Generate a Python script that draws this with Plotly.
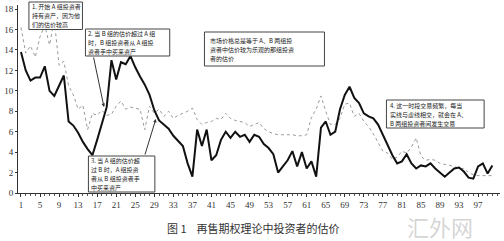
import plotly.graph_objects as go

periods = list(range(1, 101))
group_a = [13.8, 12.0, 11.0, 11.3, 11.3, 12.4, 10.0, 9.5, 10.5, 11.5,
           7.0, 6.6, 5.9, 5.0, 4.3, 3.7, 5.2, 6.7, 8.4, 13.0,
           11.1, 12.8, 12.6, 13.4, 12.3, 11.4, 10.6, 9.6, 8.1, 7.1,
           6.7, 6.3, 5.6, 5.1, 4.6, 2.9, 1.6, 6.2, 4.6, 6.2,
           3.2, 3.7, 5.2, 6.0, 5.4, 6.0, 5.5, 5.7, 5.0, 5.7,
           5.5, 4.8, 4.4, 3.8, 2.0, 2.6, 3.2, 4.1, 2.6, 4.0,
           2.4, 3.1, 1.6, 6.4, 7.0, 5.7, 6.0, 8.2, 9.6, 10.4,
           9.3, 8.8, 7.8, 7.5, 7.3, 6.7, 5.7, 4.8, 3.7, 2.9,
           3.1, 3.8, 2.9, 2.4, 2.7, 2.6, 2.9, 2.4, 2.0, 1.6,
           2.0, 2.4, 2.5, 2.1, 1.5, 1.4, 2.6, 2.9, 1.9, 2.7]
group_b = [16.2, 13.7, 14.4, 13.3, 15.3, 16.4, 14.5, 16.9, 12.5, 12.9,
           10.5, 9.6, 8.2, 8.6, 6.2, 7.8, 7.6, 8.1, 7.6, 7.7,
           8.5, 9.0, 8.2, 8.4, 8.3, 8.2, 6.2, 8.5, 7.8, 8.2,
           7.5, 8.0, 7.3, 7.6, 7.8, 8.0, 8.3, 7.2, 6.7, 6.9,
           7.0, 7.3, 7.2, 7.8, 7.3, 7.1, 7.0, 6.9, 6.5, 6.7,
           6.9, 6.3, 6.0, 5.8, 5.7, 5.7, 5.7, 5.7, 5.6, 5.6,
           5.7, 7.4, 8.2, 9.5, 8.0, 6.7, 6.7, 7.3, 8.7, 8.8,
           7.5, 7.8, 7.0, 6.5, 5.8, 5.0, 4.1, 3.9, 3.3, 3.5,
           4.1, 3.9, 4.5, 5.4, 3.6, 3.2, 3.3, 3.2, 2.9, 2.8,
           2.7, 2.6, 2.4, 2.4, 2.0, 1.8, 1.7, 1.7, 1.7, 1.7]
x_ticks = list(range(1, 101, 4))
y_ticks = [0, 2, 4, 6, 8, 10, 12, 14, 16, 18]

note_1 = ["1. 开始 A 组投资者", "持有资产，因为他", "们的估价较高"]
note_2 = ["2. 当 B 组的估价超过 A 组", "时，B 组投资者从 A 组投", "资者手中买来资产"]
note_3 = ["3. 当 A 组的估价超", "过 B 时，A 组投资", "者从 B 组投资者手", "中买来资产"]
note_m = ["市场价格总是等于 A、B 两组投", "资者中估价较为乐观的那组投资", "者的估价"]
note_4 = ["4. 这一时段交易频繁，每当", "实线与虚线相交，就会在 A、", "B 两组投资者间发生交易"]

L, T, W, H = 14, 5, 486, 188
def pp(xp, yp):
    return (xp - L) / W, (T + H - yp) / H

CJK = "Noto Sans CJK SC"
SERIF = "Liberation Serif"
FS, LS = 6, 9

fig = go.Figure()
fig.add_trace(go.Scatter(x=periods, y=group_b, mode="lines",
                         line=dict(color="#9a9a9a", width=1, dash="dot"),
                         showlegend=False))
fig.add_trace(go.Scatter(x=periods, y=group_a, mode="lines",
                         line=dict(color="#111111", width=2),
                         showlegend=False))

# (box x0, y0, x1, y1 in px), text left px, first line centre px, lines
boxes = [
    ((25, 2, 79, 29.5), 27, 6.5, note_1),
    ((82, 29, 167, 56), 84, 33.5, note_2),
    ((85, 156, 152, 192), 87, 160.5, note_3),
    ((202, 32, 323, 66), 207, 40, note_m),
    ((385.5, 100, 484, 128), 388, 105, note_4),
]

shapes = []
annotations = []
for (x0, y0, x1, y1), tx, ty, lines in boxes:
    a0, b0 = pp(x0, y1)
    a1, b1 = pp(x1, y0)
    shapes.append(dict(type="rect", xref="paper", yref="paper", x0=a0, y0=b0, x1=a1, y1=b1,
                       line=dict(color="#444444", width=1), fillcolor="white", layer="above"))
    for k, txt in enumerate(lines):
        ax_, ay_ = pp(tx, ty + k * LS)
        annotations.append(dict(text=txt, xref="paper", yref="paper", x=ax_, y=ay_,
                                xanchor="left", yanchor="middle", showarrow=False,
                                borderpad=0,
                                font=dict(family=CJK, size=FS, color="#222222")))

# arrows
for head, tail in [((100.7, 107), (90, 56)), ((153, 119), (141.7, 156))]:
    hx, hy = pp(*head)
    annotations.append(dict(text="", xref="paper", yref="paper", x=hx, y=hy,
                            ax=tail[0] - head[0], ay=tail[1] - head[1],
                            showarrow=True, arrowhead=2, arrowsize=0.7, arrowwidth=1,
                            arrowcolor="#333333"))

cx, cy = pp(162, 228)
annotations.append(dict(text="图 1    再售期权理论中投资者的估价", xref="paper", yref="paper",
                        x=cx, y=cy, xanchor="left", yanchor="middle", showarrow=False,
                        font=dict(family=CJK, size=11, color="#333333")))
wx, wy = pp(440, 226)
annotations.append(dict(text="汇外网", xref="paper", yref="paper", x=wx, y=wy,
                        xanchor="center", yanchor="middle", showarrow=False, borderpad=0,
                        font=dict(family=CJK, size=22, color="rgba(160,160,160,0.45)")))

fig.update_layout(
    width=504, height=241,
    margin=dict(l=L, r=504 - L - W, t=T, b=241 - T - H),
    paper_bgcolor="white", plot_bgcolor="white",
    shapes=shapes, annotations=annotations,
    xaxis=dict(range=[0.375, 101.6], tickvals=x_ticks, ticks="outside", ticklen=3,
               tickcolor="#333", showline=True, linecolor="#333", linewidth=1,
               showgrid=False, zeroline=False,
               tickfont=dict(family=SERIF, size=9, color="#333"),
               minor=dict(dtick=1, tick0=1, ticks="outside", ticklen=2, tickcolor="#555")),
    yaxis=dict(range=[0, 18.4], tickvals=y_ticks, ticks="outside", ticklen=2,
               tickcolor="#333", showline=True, linecolor="#333", linewidth=1,
               showgrid=False, zeroline=False,
               tickfont=dict(family=SERIF, size=9, color="#333")),
)

fig.write_html("out.html")
